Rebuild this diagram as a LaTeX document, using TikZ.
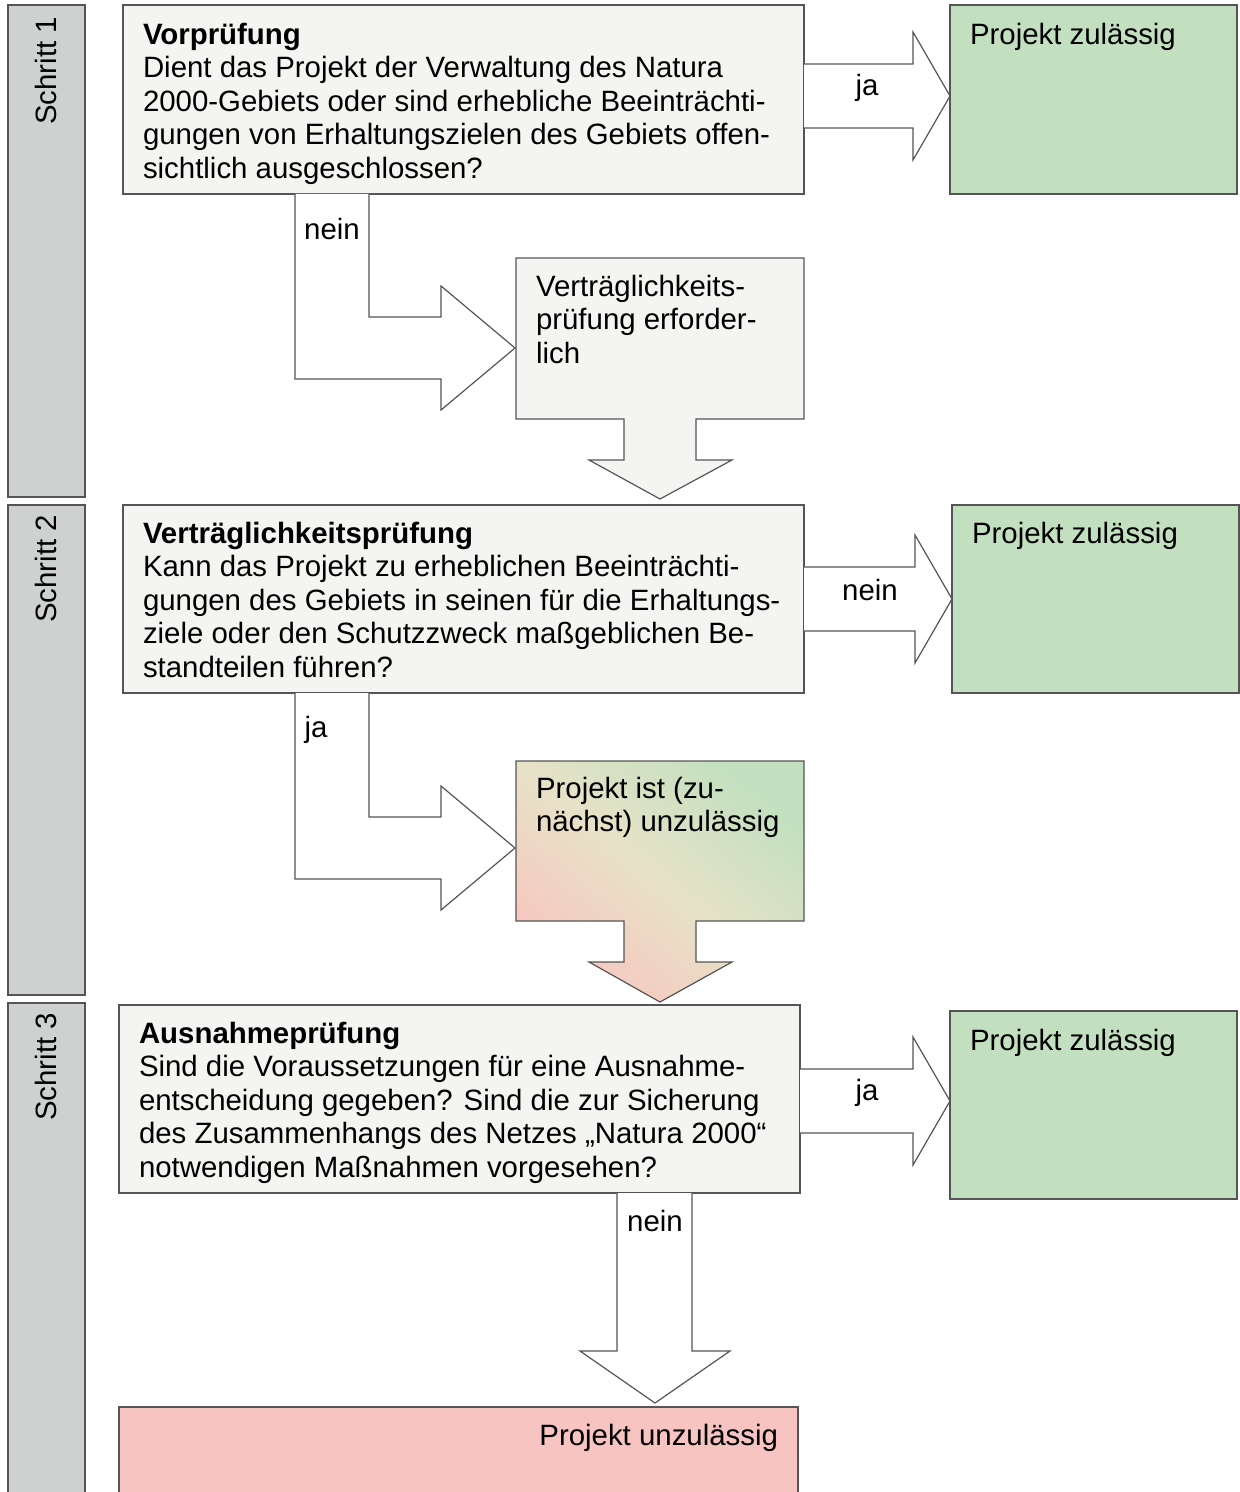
\documentclass[tikz,border=0pt]{standalone}
\usepackage{fontspec}
\setmainfont{Liberation Sans}
\definecolor{linegray}{HTML}{555555}
\definecolor{boxgray}{HTML}{F4F4F2}
\definecolor{bargray}{HTML}{CFD1D1}
\definecolor{okgreen}{HTML}{C2E0BF}
\definecolor{nopink}{HTML}{F7C4C2}
\definecolor{gradpink}{HTML}{F8C6C0}
\definecolor{midbeige}{HTML}{E7E2C7}
\begin{document}
\begin{tikzpicture}[x=0.5pt,y=-0.5pt,
  every node/.style={font=\fontsize{14.7}{16.75}\selectfont, inner sep=0pt, outer sep=0pt},
  frame/.style={draw=linegray, line width=0.6pt},
  boxnode/.style={frame, anchor=north west},
  graybox/.style={boxnode, fill=boxgray},
  greenbox/.style={boxnode, fill=okgreen},
  pinkbox/.style={boxnode, fill=nopink},
  barbox/.style={boxnode, fill=bargray, minimum width=38.5pt},
  txt/.style={anchor=north west, align=left},
  barlabel/.style={rotate=90, anchor=east},
  blockarrow/.style={frame, fill=white, line join=miter},
  lbl/.style={anchor=center}]
\useasboundingbox (0,0) rectangle (1239,1492);

% step bars
\node[barbox, minimum height=246pt] (s1) at (8,5) {};
\node[barbox, minimum height=245pt] (s2) at (8,505) {};
\node[barbox, minimum height=250pt] (s3) at (8,1003) {};
\node[barlabel] (s1t) at (46,17) {Schritt 1};
\node[barlabel] (s2t) at (46,515) {Schritt 2};
\node[barlabel] (s3t) at (46,1013) {Schritt 3};

% step 1
\node[graybox, minimum width=340.5pt, minimum height=94.5pt] (b1) at (123,5) {};
\node[txt] (b1t) at (143,23) {\textbf{Vorprüfung}\\Dient das Projekt der Verwaltung des Natura\\2000-Gebiets oder sind erhebliche Beeinträchti-\\gungen von Erhaltungszielen des Gebiets offen-\\sichtlich ausgeschlossen?};
\node[greenbox, minimum width=143.5pt, minimum height=94.5pt] (z1) at (950,5) {};
\node[txt] (z1t) at (970,23) {Projekt zulässig};
\draw[blockarrow] (804,64) -- (913,64) -- (913,32) -- (950,96) -- (913,160) -- (913,128) -- (804,128);
\node[lbl] (ja1) at (867,88) {ja};
\draw[blockarrow] (295,194) -- (295,379) -- (441,379) -- (441,410) -- (515,348) -- (441,286) -- (441,317) -- (369,317) -- (369,194);
\node[lbl] (nein1) at (332,229) {nein};

% Vertraeglichkeitspruefung erforderlich + down arrow
\node[anchor=north west, fill=boxgray, minimum width=144pt, minimum height=80.5pt] (v1) at (516,258) {};
\fill[boxgray] (696,418) -- (696,460) -- (732,460) -- (660,499) -- (589,460) -- (624,460) -- (624,418) -- cycle;
\draw[frame, line join=miter] (624,419) -- (516,419) -- (516,258) -- (804,258) -- (804,419) -- (696,419) -- (696,460) -- (732,460) -- (660,499) -- (589,460) -- (624,460) -- cycle;
\node[txt] (v1t) at (536,275) {Verträglichkeits-\\prüfung erforder-\\lich};

% step 2
\node[graybox, minimum width=340.5pt, minimum height=94pt] (b2) at (123,505) {};
\node[txt] (b2t) at (143,522) {\textbf{Verträglichkeitsprüfung}\\Kann das Projekt zu erheblichen Beeinträchti-\\gungen des Gebiets in seinen für die Erhaltungs-\\ziele oder den Schutzzweck maßgeblichen Be-\\standteilen führen?};
\node[greenbox, minimum width=143.5pt, minimum height=94pt] (z2) at (952,505) {};
\node[txt] (z2t) at (972,522) {Projekt zulässig};
\draw[blockarrow] (804,567) -- (915,567) -- (915,535) -- (952,599) -- (915,663) -- (915,631) -- (804,631);
\node[lbl] (nein2) at (870,590) {nein};
\draw[blockarrow] (295,693) -- (295,879) -- (441,879) -- (441,910) -- (515,848) -- (441,786) -- (441,817) -- (369,817) -- (369,693);
\node[lbl] (ja2) at (316,730) {ja};

% gradient box + arrow
\node[anchor=north west, minimum width=144pt, minimum height=80pt] (v2) at (516,761) {};
\shade[top color=okgreen, bottom color=gradpink, middle color=midbeige, shading angle=-40] (516,761) -- (804,761) -- (804,921) -- (696,921) -- (696,962) -- (732,962) -- (660,1002) -- (589,962) -- (624,962) -- (624,921) -- (516,921) -- cycle;
\draw[frame, line join=miter] (624,921) -- (516,921) -- (516,761) -- (804,761) -- (804,921) -- (696,921) -- (696,962) -- (732,962) -- (660,1002) -- (589,962) -- (624,962) -- cycle;
\node[txt] (v2t) at (536,777) {Projekt ist (zu-\\nächst) unzulässig};

% step 3
\node[graybox, minimum width=340.5pt, minimum height=94pt] (b3) at (119,1005) {};
\node[txt] (b3t) at (139,1022) {\textbf{Ausnahmeprüfung}\\Sind die Voraussetzungen für eine Ausnahme-\\entscheidung gegeben? Sind die zur Sicherung\\des Zusammenhangs des Netzes „Natura 2000“\\notwendigen Maßnahmen vorgesehen?};
\node[greenbox, minimum width=143.5pt, minimum height=94pt] (z3) at (950,1011) {};
\node[txt] (z3t) at (970,1029) {Projekt zulässig};
\draw[blockarrow] (800,1069) -- (913,1069) -- (913,1037) -- (950,1101) -- (913,1165) -- (913,1133) -- (800,1133);
\node[lbl] (ja3) at (867,1093) {ja};
\draw[blockarrow] (617,1193) -- (617,1351) -- (580,1351) -- (655,1403) -- (730,1351) -- (692,1351) -- (692,1193);
\node[lbl] (nein3) at (655,1221) {nein};

\node[pinkbox, minimum width=339.5pt, minimum height=50pt] (u) at (119,1407) {};
\node[anchor=north east] (ut) at (778,1424) {Projekt unzulässig};
\end{tikzpicture}
\end{document}
